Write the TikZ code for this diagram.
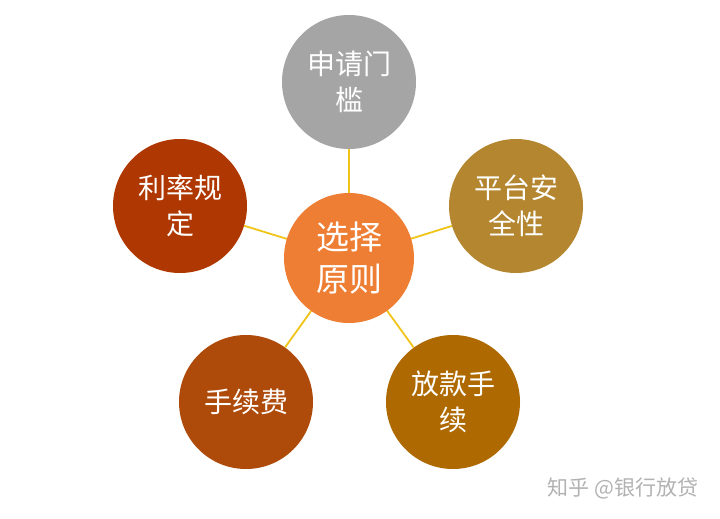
\documentclass[tikz,border=0pt]{standalone}
\usepackage{fontspec}
\setmainfont{Noto Sans CJK SC}
\newfontfamily\cjk{Noto Sans CJK SC}
\begin{document}
\begin{tikzpicture}[x=1pt,y=-1pt,
  bub/.style={circle,minimum size=134pt,inner sep=0pt,text=white,align=center,font=\cjk\fontsize{28}{36}\selectfont},
  link/.style={draw=linkc,line width=1.8pt}]
\definecolor{linkc}{HTML}{F0C419}
\definecolor{cen}{HTML}{EE7E33}
\definecolor{cgray}{HTML}{A5A5A5}
\definecolor{cgold}{HTML}{B3862F}
\definecolor{cbrown}{HTML}{AE6A00}
\definecolor{cbr2}{HTML}{AE4B0A}
\definecolor{cred}{HTML}{AF3701}
\useasboundingbox[fill=white] (0,0) rectangle (720,519);
\node[bub,fill=cgray] (top) at (349,82) {申请门\\槛};
\node[bub,fill=cgold] (right) at (516,206) {平台安\\全性};
\node[bub,fill=cbrown] (br) at (453,402) {放款手\\续};
\node[bub,fill=cbr2] (bl) at (246,402) {手续费};
\node[bub,fill=cred] (left) at (180,206) {利率规\\定};
\draw[link] (349,258) -- (top);
\draw[link] (349,258) -- (right);
\draw[link] (349,258) -- (br);
\draw[link] (349,258) -- (bl);
\draw[link] (349,258) -- (left);
\node[bub,fill=cen,minimum size=130pt,font=\cjk\fontsize{33}{42}\selectfont] (c) at (349,258) {选择\\原则};
\node[text=black!30,font=\cjk\fontsize{21}{24}\selectfont] (wm) at (623,488) {知乎 @银行放贷};
\end{tikzpicture}
\end{document}
